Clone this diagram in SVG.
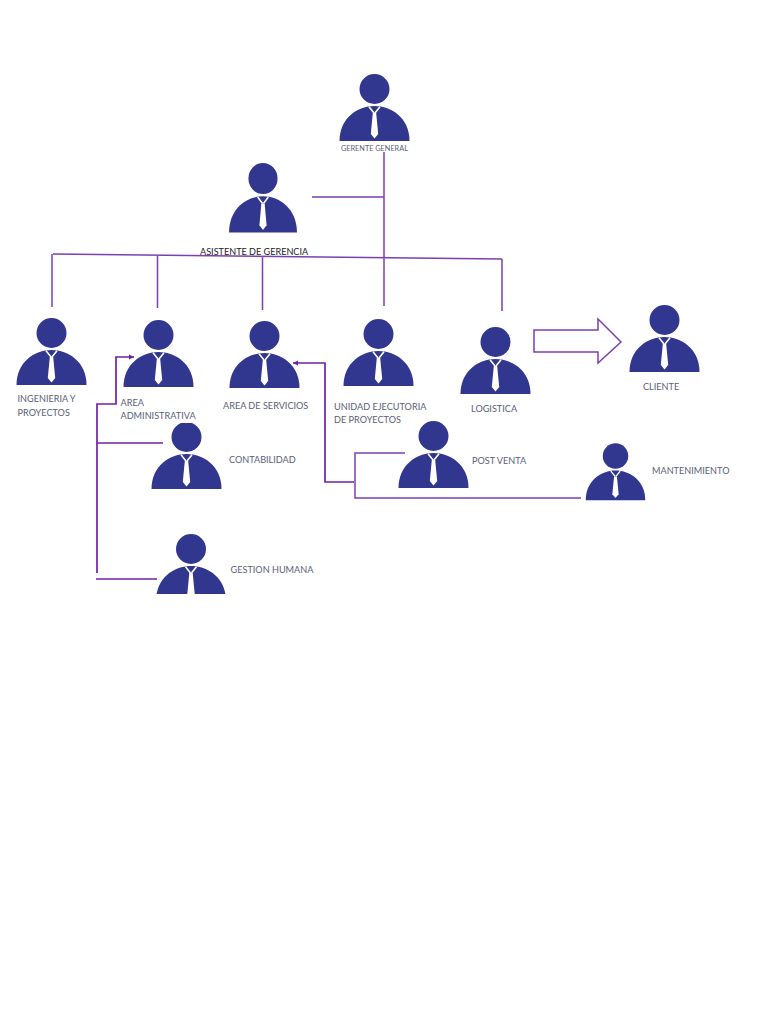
<svg xmlns="http://www.w3.org/2000/svg" width="768" height="1024" viewBox="0 0 768 1024">
<style>
.l{font-family:Lato,"Liberation Sans",sans-serif;font-size:9.150px;fill:#5b6178}
.c{fill:none;stroke:#7e3fb2;stroke-width:1.5}
.d{fill:none;stroke:#7020a8;stroke-width:1.7}
</style>
<defs>
<marker id="a" markerUnits="userSpaceOnUse" markerWidth="6" markerHeight="6" refX="5" refY="3" orient="auto"><path d="M0 .5L5 3L0 5.500Z" fill="#7020a8"/></marker>
<symbol id="p" overflow="visible">
<circle cx="0" cy="0" r="15" fill="#31368f"/>
<path d="M-35 52C-35 29-17 17 0 17C17 17 35 29 35 52Z" fill="#31368f"/>
<path d="M-5.500 17.800L-.5 24M5.500 17.800L.5 24" fill="none" stroke="#fff" stroke-width="1.600"/>
<path d="M-1.700 24H1.700L3.700 45L0 49.500L-3.700 45Z" fill="#fff"/>
</symbol>
<clipPath id="ct"><rect x="140" y="423" width="90" height="70"/></clipPath>
<clipPath id="cg"><rect x="150" y="530" width="85" height="64"/></clipPath>
</defs>
<rect width="768" height="1024" fill="#fff"/>
<g id="connectors">
<path class="c" d="M384 152V306M312 197H384M53 254L502 259M52 254V307M157.500 256V308M262.500 257V310M502 259V311"/>
<path class="d" d="M97 573V404H116V357H134" marker-end="url(#a)"/>
<path class="d" d="M97 443H163M96 579H157"/>
<path class="d" d="M354 482H325V363H293" stroke-width="1.300" marker-end="url(#a)"/>
<path class="c" d="M405 453H355V498H581"/>
<path class="c" d="M534 330H598V319L621 342L598 363V352H534Z"/>
</g>
<g id="n-gerente"><use href="#p" x="374.500" y="89"/><text class="l" x="341" y="151" style="font-size:7.300px">GERENTE GENERAL</text></g>
<g id="n-asistente"><use href="#p" transform="translate(263 178.500) scale(.97 1.040)"/><text x="200" y="255" style="font-family:Lato,'Liberation Sans',sans-serif;font-size:9.100px;fill:#222">ASISTENTE DE GERENCIA</text></g>
<g id="n-ingenieria"><use href="#p" x="51.500" y="333"/><text class="l" x="17.500" y="402">INGENIERIA Y</text><text class="l" x="17.500" y="416">PROYECTOS</text></g>
<g id="n-admin"><use href="#p" x="158.500" y="335"/><text class="l" x="120.500" y="406">AREA</text><text class="l" x="120.500" y="419">ADMINISTRATIVA</text></g>
<g id="n-servicios"><use href="#p" x="264.500" y="336"/><text class="l" x="223" y="409">AREA DE SERVICIOS</text></g>
<g id="n-unidad"><use href="#p" x="378.500" y="334"/><text class="l" x="334" y="410">UNIDAD EJECUTORIA</text><text class="l" x="334" y="423">DE PROYECTOS</text></g>
<g id="n-logistica"><use href="#p" x="495.500" y="342"/><text class="l" x="471" y="412">LOGISTICA</text></g>
<g id="n-cliente"><use href="#p" x="664.500" y="320"/><text class="l" x="643" y="390">CLIENTE</text></g>
<g id="n-contabilidad"><g clip-path="url(#ct)"><use href="#p" x="186.500" y="437"/></g><text class="l" x="229" y="463">CONTABILIDAD</text></g>
<g id="n-postventa"><use href="#p" x="433.500" y="436"/><text class="l" x="472" y="464">POST VENTA</text></g>
<g id="n-mantenimiento"><use href="#p" transform="translate(615.500 456) scale(.85)"/><text class="l" x="652" y="474">MANTENIMIENTO</text></g>
<g id="n-gestion"><g clip-path="url(#cg)"><use href="#p" x="191" y="549"/></g><text class="l" x="230.500" y="573">GESTION HUMANA</text></g>
</svg>
